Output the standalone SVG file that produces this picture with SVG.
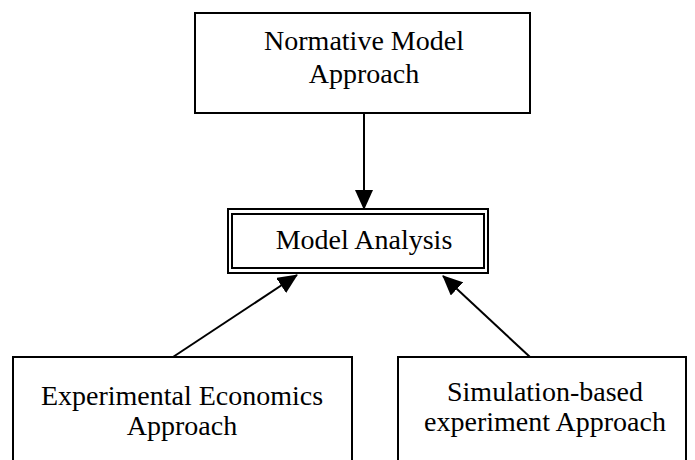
<svg xmlns="http://www.w3.org/2000/svg" width="695" height="460" viewBox="0 0 695 460">
<defs>
<marker id="ah" markerWidth="20" markerHeight="18" refX="19" refY="9" orient="auto" markerUnits="userSpaceOnUse">
<path d="M0,0 L20,9 L0,18 Z" fill="#000"/>
</marker>
<style>
.box{fill:#fff;stroke:#000;stroke-width:2}
.t{font-family:"Liberation Serif","Times New Roman",serif;font-size:28px;fill:#000;text-anchor:middle}
.c{stroke:#000;stroke-width:2;fill:none}
</style>
</defs>
<rect width="695" height="460" fill="#fff"/>
<g id="connectors">
<line class="c" x1="364" y1="113" x2="364" y2="209" marker-end="url(#ah)"/>
<line class="c" x1="173" y1="357" x2="297" y2="275" marker-end="url(#ah)"/>
<line class="c" x1="530" y1="357" x2="443" y2="276" marker-end="url(#ah)"/>
</g>
<g id="normative">
<rect class="box" x="195" y="13" width="335" height="100"/>
<text class="t" x="364" y="50">Normative Model</text>
<text class="t" x="364" y="83">Approach</text>
</g>
<g id="analysis">
<rect class="box" x="228" y="209" width="260" height="64"/>
<rect class="box" x="232" y="214" width="252" height="54"/>
<text class="t" x="364" y="249">Model Analysis</text>
</g>
<g id="experimental">
<rect class="box" x="13" y="357" width="339" height="120"/>
<text class="t" x="182" y="405">Experimental Economics</text>
<text class="t" x="182" y="435">Approach</text>
</g>
<g id="simulation">
<rect class="box" x="398" y="357" width="288" height="120"/>
<text class="t" x="545" y="401">Simulation-based</text>
<text class="t" x="545" y="431">experiment Approach</text>
</g>
</svg>
